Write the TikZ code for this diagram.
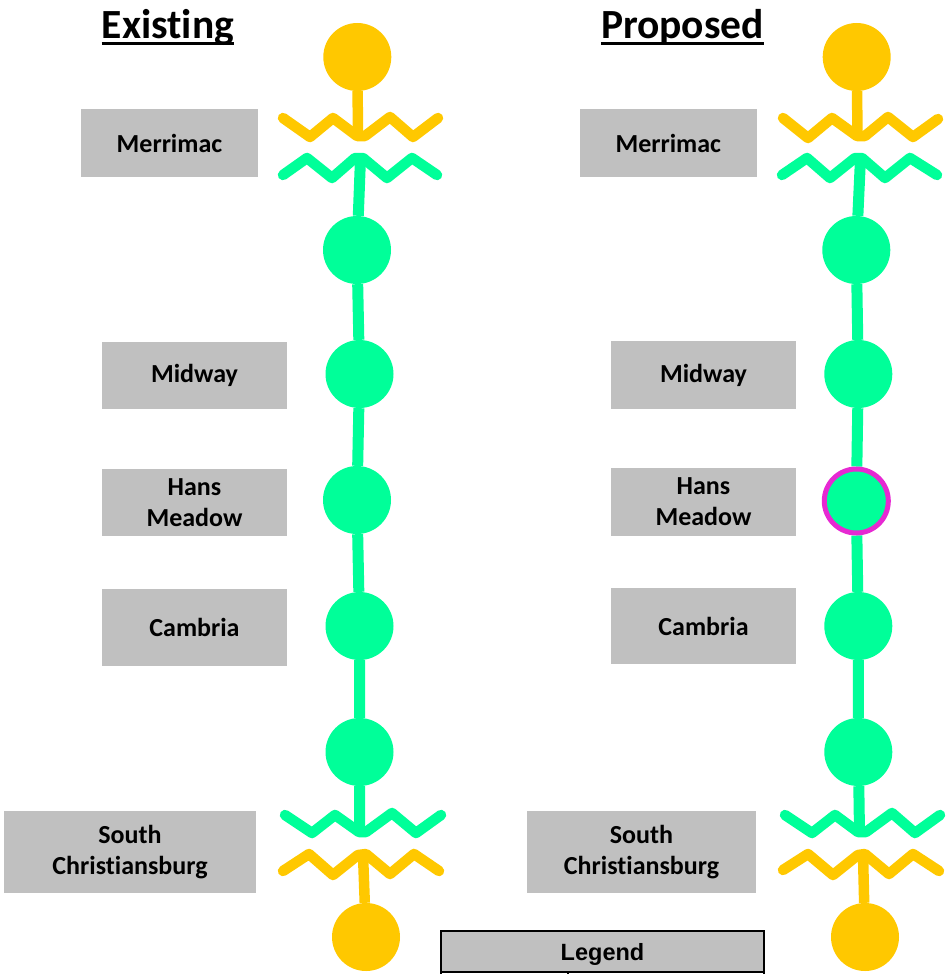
\documentclass[tikz,border=0pt]{standalone}
\usepackage{fontspec}
\setmainfont{Carlito}[Ligatures=NoCommon]
\newfontfamily\legendfont{Liberation Sans}
\usetikzlibrary{backgrounds}
\definecolor{busgreen}{HTML}{00FF99}
\definecolor{srcyellow}{HTML}{FFC800}
\definecolor{taggray}{HTML}{C0C0C0}
\definecolor{ringmag}{HTML}{E629D2}

\begin{document}
\begin{tikzpicture}[x=1pt,y=-1pt,
  tagbox/.style={fill=taggray, inner sep=0pt, align=center,
    font=\bfseries\fontsize{26}{31}\selectfont},
  busnode/.style={circle, fill=busgreen, minimum size=68pt, inner sep=0pt},
  srcnode/.style={circle, fill=srcyellow, minimum size=68pt, inner sep=0pt},
  busline/.style={draw=busgreen, line width=11pt},
  srcline/.style={draw=srcyellow, line width=10.5pt},
  zigzag/.style={line width=10.5pt, line cap=round, line join=round},
  heading/.style={font=\bfseries\fontsize{41.5}{48}\selectfont, inner sep=0pt, anchor=base},
]
\clip (0,0) rectangle (948,974);

% ---------- headings ----------
\node[heading] (tL) at (168,38.5) {Existing};
\node[heading] (tR) at (682.5,38.5) {Proposed};
\draw[line width=3pt] ([yshift=-5pt]tL.base west) -- ([yshift=-5pt]tL.base east);
\draw[line width=3pt] ([yshift=-5pt]tR.base west) -- ([yshift=-5pt]tR.base east);

% ---------- station labels, existing ----------
\node[tagbox, minimum width=177pt, minimum height=68pt] (mL) at (169.5,143) {Merrimac};
\node[tagbox, minimum width=185pt, minimum height=67pt] (wL) at (194.5,375.5) {Midway};
\node[tagbox, minimum width=185pt, minimum height=67pt] (hL) at (194.5,502.5) {Hans\\Meadow};
\node[tagbox, minimum width=185pt, minimum height=77pt] (cL) at (194.5,627) {Cambria};
\node[tagbox, minimum width=252pt, minimum height=82pt] (sL) at (130,852) {South\\Christiansburg};

% ---------- station labels, proposed ----------
\node[tagbox, minimum width=177pt, minimum height=68pt] (mR) at (668.3,143) {Merrimac};
\node[tagbox, minimum width=185pt, minimum height=68pt] (wR) at (703.5,375) {Midway};
\node[tagbox, minimum width=185pt, minimum height=68pt] (hR) at (703.5,502) {Hans\\Meadow};
\node[tagbox, minimum width=185pt, minimum height=76pt] (cR) at (703.5,626) {Cambria};
\node[tagbox, minimum width=229pt, minimum height=82pt] (sR) at (641.5,852) {South\\Christiansburg};

% ---------- existing line ----------
\node[srcnode] (LsT) at (357.3,57) {};
\node[busnode] (L1) at (357,250) {};
\node[busnode] (L2) at (359.5,374) {};
\node[busnode] (L3) at (357,500) {};
\node[busnode] (L4) at (359.5,626) {};
\node[busnode] (L5) at (359.5,752) {};
\node[srcnode] (LsB) at (366,937) {};
\coordinate (LyT) at (358,136);
\coordinate (LgT) at (360.5,158);
\coordinate (LgB) at (359.5,832);
\coordinate (LyB) at (363,854);

\draw[zigzag, srcyellow] (283,118) -- (310,137) -- (333,118) -- (357,136) -- (365,136) -- (390,117) -- (413,137) -- (438,118);
\draw[zigzag, busgreen] (283,175) -- (307,158) -- (332,178) -- (355,158) -- (363,158) -- (387,178) -- (412,158) -- (437,175);
\draw[zigzag, busgreen] (285,815) -- (312,833) -- (335,815) -- (359,832) -- (366,832) -- (392,813) -- (416,833) -- (441,815);
\draw[zigzag, srcyellow] (283,871) -- (309,854) -- (333,875) -- (358,855) -- (366,854) -- (390,874) -- (414,854) -- (439,871);

% ---------- proposed line ----------
\node[srcnode] (RsT) at (856.7,57) {};
\node[busnode] (R1) at (856.3,250) {};
\node[busnode] (R2) at (858.3,374) {};
\node[busnode, draw=ringmag, line width=5pt, minimum size=64pt] (R3) at (856.3,501) {};
\node[busnode] (R4) at (858.3,626) {};
\node[busnode] (R5) at (858.3,752) {};
\node[srcnode] (RsB) at (865,937) {};
\coordinate (RyT) at (857.5,136);
\coordinate (RgT) at (860.5,158);
\coordinate (RgB) at (859.5,832);
\coordinate (RyB) at (863,854);

\draw[zigzag, srcyellow] (783,118) -- (808,138) -- (832,118) -- (857,136) -- (865,136) -- (888,117) -- (913,137) -- (938,119);
\draw[zigzag, busgreen] (782,175) -- (807,158) -- (830,178) -- (855,158) -- (862,158) -- (885,178) -- (910,158) -- (937,175);
\draw[zigzag, busgreen] (785,815) -- (812,833) -- (835,815) -- (858,832) -- (866,832) -- (892,813) -- (915,833) -- (940,815);
\draw[zigzag, srcyellow] (783,870) -- (808,854) -- (833,875) -- (858,855) -- (865,854) -- (889,874) -- (913,854) -- (939,871);

% ---------- connectors behind the stations ----------
\begin{scope}[on background layer]
  \draw[srcline] (LsT) -- (LyT);
  \draw[busline] (LgT) -- (L1) -- (L2) -- (L3) -- (L4) -- (L5) -- (LgB);
  \draw[srcline] (LyB) -- (LsB);
  \draw[srcline] (RsT) -- (RyT);
  \draw[busline] (RgT) -- (R1) -- (R2) -- (R3) -- (R4) -- (R5) -- (RgB);
  \draw[srcline] (RyB) -- (RsB);
\end{scope}

% ---------- legend ----------
\draw[line width=2pt, fill=white] (441,972) rectangle (764,1000);
\draw[line width=2pt] (568,972) -- (568,1000);
\node[draw, line width=2pt, fill=taggray, minimum width=323pt, minimum height=41pt, inner sep=0pt,
  text depth=0pt, font=\legendfont\bfseries\fontsize{23.5}{28}\selectfont] (leg) at (602.5,951.5) {Legend};
\end{tikzpicture}
\end{document}
